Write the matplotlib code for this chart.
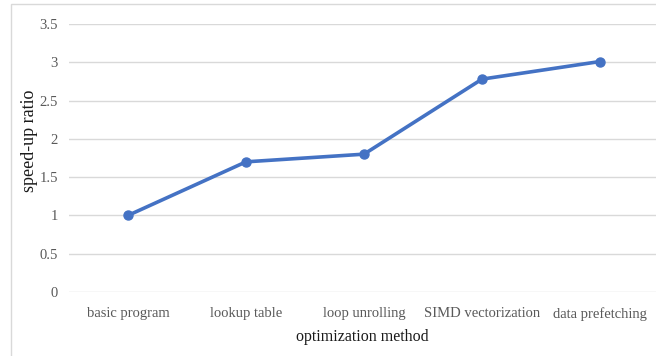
import matplotlib
matplotlib.use('Agg')
import matplotlib.pyplot as plt
from matplotlib.patches import Rectangle

methods = ['basic program', 'lookup table', 'loop unrolling', 'SIMD vectorization', 'data prefetching']
speedup = [1.0, 1.7, 1.8, 2.78, 3.01]
yticks = [0, 0.5, 1, 1.5, 2, 2.5, 3, 3.5]
ytick_labels = ['0', '0.5', '1', '1.5', '2', '2.5', '3', '3.5']

plt.rcParams['font.family'] = ['Liberation Serif', 'DejaVu Serif']

W, H = 656, 356
fig = plt.figure(figsize=(W / 100, H / 100), dpi=100)

# chart frame (cut off at right and bottom)
fig.patches.append(Rectangle((11 / W, -0.1), 1.2, 1 - 4 / H + 0.1,
                             transform=fig.transFigure, fill=False,
                             edgecolor='#d9d9d9', linewidth=1.0))

left, right = 69, 656
top, bottom = 24, 292
ax = fig.add_axes([left / W, 1 - bottom / H, (right - left) / W, (bottom - top) / H])

x = list(range(len(methods)))
ax.plot(x, speedup, color='#4472c4', linewidth=2.6, marker='o', markersize=6.5,
        solid_capstyle='round', zorder=3)

ax.set_xlim(-0.5, -0.5 + (right - left) / 118)
ax.set_ylim(0, 3.5)
ax.set_yticks(yticks)
ax.set_yticklabels(ytick_labels)
ax.set_xticks(x)
ax.set_xticklabels(methods)
ax.grid(axis='y', color='#d9d9d9', linewidth=1.0)
ax.set_axisbelow(True)
for s in ax.spines.values():
    s.set_visible(False)
ax.tick_params(length=0, labelsize=10.5, labelcolor='#595959')
ax.tick_params(axis='x', pad=11)
ax.tick_params(axis='y', pad=8)

ax.set_xlabel('optimization method', fontsize=11.5, color='#1a1a1a', labelpad=6)
fig.text(30 / W, 1 - 141 / H, 'speed-up ratio', rotation=90, fontsize=13,
         color='#1a1a1a', ha='center', va='center')

plt.savefig('out.png', dpi=100)
